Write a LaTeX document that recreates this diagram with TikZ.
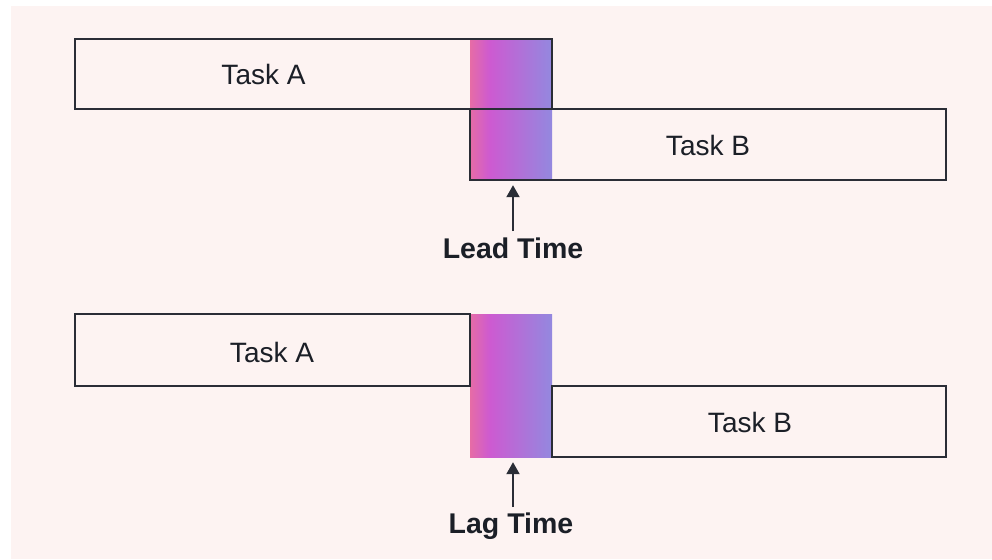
\documentclass[tikz,border=0pt]{standalone}
\usepackage{fontspec}
\setmainfont{Liberation Sans}
\usetikzlibrary{arrows.meta}
\definecolor{pagebg}{HTML}{FDF3F2}
\definecolor{ink}{HTML}{1B1F27}
\definecolor{edge}{HTML}{2A2D36}
\definecolor{gpink}{HTML}{E66CA6}
\definecolor{gmag}{HTML}{CD5AD1}
\definecolor{gblue}{HTML}{9388DF}
% horizontal blend used for the overlap / gap bands (25bp..75bp = band width)
\pgfdeclarehorizontalshading{bandblend}{100bp}{%
  color(0bp)=(gpink); color(25bp)=(gpink); color(37bp)=(gmag);
  color(75bp)=(gblue); color(100bp)=(gblue)}
\tikzset{
  taskbox/.style={draw=edge, line width=2pt, inner sep=0pt},
  band/.style={shading=bandblend, inner sep=0pt, draw=none},
  tasklabel/.style={text=ink, font=\fontsize{28}{32}\selectfont, anchor=base, inner sep=0pt},
  timelabel/.style={text=ink, font=\fontsize{28.5}{32}\selectfont\bfseries, anchor=base, inner sep=0pt},
  pointer/.style={draw=edge, line width=2pt, -{Triangle[width=13pt,length=12pt]}},
}
\begin{document}
\begin{tikzpicture}[x=1pt, y=-1pt]
  \useasboundingbox (0,0) rectangle (992,559);
  \fill[white] (0,0) rectangle (992,559);
  \fill[pagebg] (11,6) rectangle (992,559);

  % --- lead: B starts before A ends ---
  \node[band, minimum width=82pt, minimum height=141pt] (g1) at (511,109.5) {};
  \draw[taskbox] (75,39) rectangle (552,109);
  \draw[taskbox] (470,109) rectangle (946,180);
  \node[tasklabel] (a1) at (263.5,85) {Task A};
  \node[tasklabel] (b1) at (708,155) {Task B};
  \coordinate (leadtail) at (513,231);
  \draw[pointer] (leadtail) -- ([xshift=2pt,yshift=-5pt]g1.south);
  \node[timelabel] (lead) at (513,258) {Lead Time};

  % --- lag: B waits after A ends ---
  \node[band, minimum width=82pt, minimum height=143pt] (g2) at (511,385.5) {};
  \draw[taskbox] (75,314) rectangle (470,386);
  \draw[taskbox] (552,386) rectangle (946,457);
  \node[tasklabel] (a2) at (272,362) {Task A};
  \node[tasklabel] (b2) at (750,432) {Task B};
  \coordinate (lagtail) at (513,507);
  \draw[pointer] (lagtail) -- ([xshift=2pt,yshift=-5pt]g2.south);
  \node[timelabel] (lag) at (511,533) {Lag Time};
\end{tikzpicture}
\end{document}
